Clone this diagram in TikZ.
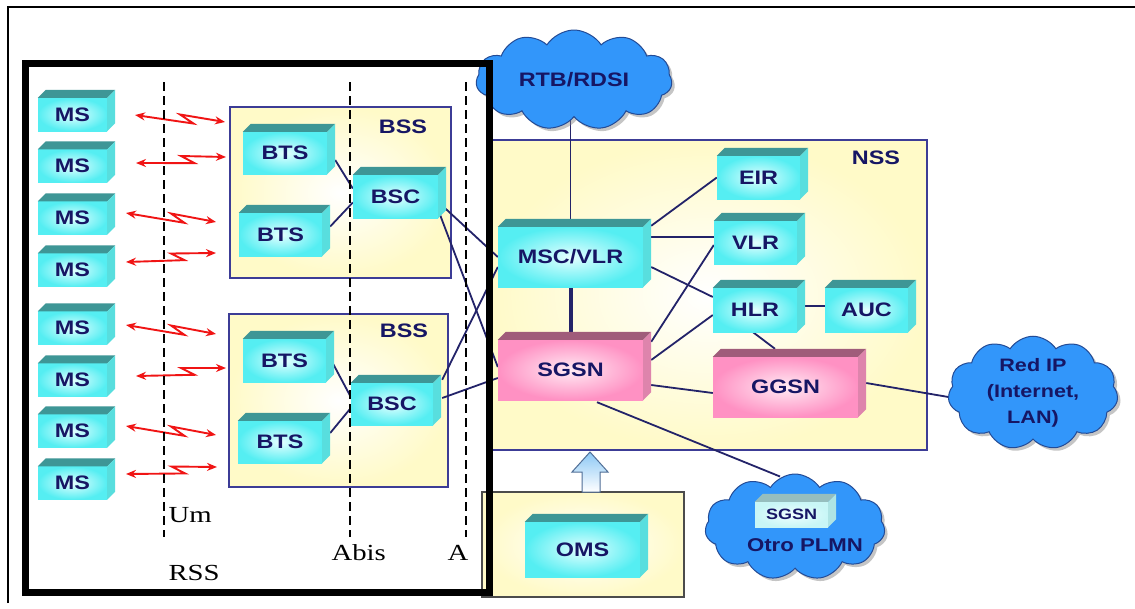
\documentclass[tikz,border=0pt]{standalone}
\usepackage{fontspec}
\usetikzlibrary{calc,shapes.symbols,shadows,arrows.meta}
\newfontfamily\boxfont[FakeStretch=1.2]{Liberation Sans}
\newfontfamily\labfont[FakeStretch=1.25]{Liberation Serif}

\definecolor{ink}{RGB}{22,22,100}
\definecolor{wire}{RGB}{35,35,105}
\definecolor{cyanedge}{RGB}{85,238,242}
\definecolor{cyancore}{RGB}{228,255,255}
\definecolor{cyantop}{RGB}{62,150,150}
\definecolor{cyanside}{RGB}{88,222,222}
\definecolor{pinkedge}{RGB}{255,145,195}
\definecolor{pinkcore}{RGB}{255,235,244}
\definecolor{pinktop}{RGB}{160,92,122}
\definecolor{pinkside}{RGB}{222,132,172}
\definecolor{paleedge}{RGB}{200,246,246}
\definecolor{palecore}{RGB}{240,255,255}
\definecolor{paletop}{RGB}{150,190,190}
\definecolor{paleside}{RGB}{175,228,228}
\definecolor{panelfill}{RGB}{255,250,200}
\definecolor{panelline}{RGB}{60,60,150}
\definecolor{cloudblue}{RGB}{50,150,250}
\definecolor{cloudline}{RGB}{35,75,150}
\definecolor{radio}{RGB}{240,20,20}
\definecolor{feedtop}{RGB}{140,200,245}
\definecolor{feedline}{RGB}{80,110,150}

\pgfdeclarelayer{panels}
\pgfdeclarelayer{wires}
\pgfdeclarelayer{front}
\pgfsetlayers{panels,wires,main,front}

\tikzset{
  face/.style={inner sep=0pt, text=ink,
    font=\boxfont\bfseries\fontsize{19.5}{22}\selectfont},
  cyanface/.style={face, inner color=cyancore, outer color=cyanedge},
  pinkface/.style={face, inner color=pinkcore, outer color=pinkedge},
  paleface/.style={face, inner color=palecore, outer color=paleedge,
    font=\boxfont\bfseries\fontsize{15}{18}\selectfont},
  panel/.style={draw=panelline, line width=1.2pt, inner sep=0pt,
    inner color=white, outer color=panelfill},
  omspanel/.style={panel, draw=black!70},
  title/.style={text=ink, font=\boxfont\bfseries\fontsize{19.5}{22}\selectfont},
  iface/.style={anchor=base west, text=black,
    font=\labfont\fontsize{23}{26}\selectfont},
  net/.style={cloud, cloud puffs=11, cloud puff arc=115, cloud ignores aspect,
    fill=cloudblue, draw=cloudline, line width=1pt, inner sep=0pt,
    text=ink, align=center,
    drop shadow={shadow xshift=3pt, shadow yshift=-3pt, opacity=0.45}},
  link/.style={draw=wire, line width=1.8pt},
  trunk/.style={draw=wire, line width=4pt},
  radiolink/.style={draw=radio, line width=1.9pt,
    {Stealth[length=10pt,width=8pt]}-{Stealth[length=10pt,width=8pt]}},
  border/.style={dash pattern=on 9pt off 5pt, line width=2.6pt},
}

% top and side faces of a box whose front face is node #1
\newcommand\cubefaces[3]{%
  \fill[#2] (#1.north west) -- ++(8,-8) -- ($(#1.north east)+(8,-8)$)
    -- (#1.north east) -- cycle;
  \fill[#3] (#1.north east) -- ++(8,-8) -- ($(#1.south east)+(8,-8)$)
    -- (#1.south east) -- cycle;}
% #1 colour set, #2 name, #3 centre, #4 width, #5 height, #6 text
\newcommand\unit[6]{%
  \node[#1face, minimum width=#4pt, minimum height=#5pt] (#2) at (#3) {#6};
  \cubefaces{#2}{#1top}{#1side}}

\begin{document}
\begin{tikzpicture}[x=1pt, y=-1pt]
\useasboundingbox (0,0) rectangle (1135,608);

% subsystem panels
\begin{pgfonlayer}{panels}
  \fill[white] (0,0) rectangle (1135,608);
  \node[panel, minimum width=221pt, minimum height=171pt] (bss1) at (340.5,192.5) {};
  \node[panel, minimum width=219pt, minimum height=173pt] (bss2) at (338.5,400.5) {};
  \node[panel, minimum width=438pt, minimum height=310pt] (nss) at (708,295) {};
  \node[omspanel, minimum width=202pt, minimum height=105pt] (omsp) at (583,544.5) {};
\end{pgfonlayer}

% outer frame
\draw[line width=1.6pt] (8,603) -- (8,7) -- (1140,7);

\node[title] at (403,127) {BSS};
\node[title] at (404,331) {BSS};
\node[title] at (876,158) {NSS};

% mobile stations
\foreach \i/\y in {1/114.5,2/166,3/218,4/270,5/328,6/380,7/431,8/483}{
  \unit{cyan}{ms\i}{72.5,\y}{69}{33}{MS}
}

% base station subsystems
\unit{cyan}{bts1}{285,153}{84}{42}{BTS}
\unit{cyan}{bts2}{280.5,234.5}{83}{43}{BTS}
\unit{cyan}{bsc1}{395.5,196.5}{85}{43}{BSC}
\unit{cyan}{bts3}{284.5,360.5}{83}{43}{BTS}
\unit{cyan}{bts4}{280,442}{84}{42}{BTS}
\unit{cyan}{bsc2}{392,404}{82}{42}{BSC}

% network subsystem
\unit{cyan}{msc}{570.5,257}{145}{60}{MSC/VLR}
\unit{pink}{sgsn}{570.5,370}{145}{60}{SGSN}
\unit{cyan}{eir}{758.5,177.5}{83}{43}{EIR}
\unit{cyan}{vlr}{755.5,242.5}{83}{43}{VLR}
\unit{cyan}{hlr}{755,310}{84}{44}{HLR}
\unit{cyan}{auc}{866.5,310}{83}{44}{AUC}
\unit{pink}{ggsn}{785.5,387}{145}{60}{GGSN}

% operation and maintenance
\unit{cyan}{oms}{582.5,549.5}{115}{55}{OMS}
\shade[top color=feedtop, bottom color=white, draw=feedline, line width=1pt]
  (582,492) -- (582,472) -- (572,472) -- (590,452) -- (608,472)
  -- (600,472) -- (600,492) -- cycle;

% external networks
\node[net, minimum width=196pt, minimum height=100pt,
  font=\boxfont\bfseries\fontsize{19.5}{22}\selectfont] (rtb) at (574,80) {RTB/RDSI};
\node[net, minimum width=170pt, minimum height=98pt,
  font=\boxfont\bfseries\fontsize{18}{26}\selectfont] (redip) at (1033,393)
  {Red IP\\(Internet,\\LAN)};
\node[net, minimum width=180pt, minimum height=106pt] (otro) at (795,527) {};
\unit{pale}{sgsnx}{791.5,514.5}{73}{25}{SGSN}
\node[title, font=\boxfont\bfseries\fontsize{18.5}{22}\selectfont] at (805,545) {Otro PLMN};

% wired links
\begin{pgfonlayer}{wires}
  \draw[link] ([xshift=8pt,yshift=-7pt]bts1.east) -- ([yshift=8pt]bsc1.west);
  \draw[link] ([xshift=8pt,yshift=8pt]bts2.east) -- ([yshift=-6pt]bsc1.west);
  \draw[link] ([xshift=7pt,yshift=-3.5pt]bts3.east) -- ([yshift=7pt]bsc2.west);
  \draw[link] ([xshift=8pt,yshift=9pt]bts4.east) -- ([yshift=-4pt]bsc2.west);
  \draw[link] ([xshift=5pt,yshift=-10pt]bsc1.east) -- (msc.west);
  \draw[link] ([xshift=2pt,yshift=3pt]bsc1.south east) -- ([yshift=3pt]sgsn.west);
  \draw[link] ([xshift=9pt,yshift=3pt]bsc2.north east) -- ([yshift=-10pt]msc.west);
  \draw[link] ([xshift=9pt,yshift=6pt]bsc2.east) -- ([yshift=-8pt]sgsn.west);
  \draw[link] (msc.north |- rtb.south) -- (msc.north);
  \draw[trunk] (msc.south) -- (sgsn.north);
  \draw[link] ([xshift=8pt,yshift=1pt]msc.north east) -- (eir.west);
  \draw[link] ([xshift=8pt,yshift=20pt]msc.east) -- ([yshift=5.5pt]vlr.west);
  \draw[link] ([xshift=8pt,yshift=-10pt]msc.east) -- ([yshift=13pt]hlr.west);
  \draw[link] ([xshift=8pt,yshift=-2pt]sgsn.north east) -- ([yshift=-2.5pt]vlr.west);
  \draw[link] ([xshift=8pt,yshift=10pt]sgsn.east) -- ([yshift=-5pt]hlr.west);
  \draw[link] ([xshift=8pt,yshift=-15pt]sgsn.east) -- ([yshift=-6pt]ggsn.west);
  \draw[link] ([xshift=-2pt]hlr.south) -- ([xshift=-10.5pt,yshift=8pt]ggsn.north);
  \draw[link] ([xshift=8pt,yshift=4pt]hlr.east) -- ([yshift=4pt]auc.west);
  \draw[link] ([xshift=8pt,yshift=4pt]ggsn.east) -- ([yshift=-4pt]redip.west);
  \draw[link] ([xshift=26.5pt,yshift=-2pt]sgsn.south) -- ([xshift=-15pt,yshift=-3pt]otro.north);
\end{pgfonlayer}

% radio links on the Um interface
\foreach \i/\lx/\ly/\rx/\ry in {1/135/115/225/122, 2/136/163/226/157,
    3/126/213/216/222, 4/126/262/216/253, 5/126/325/216/334,
    6/136/376/226/368, 7/126/426/216/435, 8/126/474/217/467}{
  \coordinate (ra\i) at (\lx,\ly);
  \coordinate (rb\i) at (\rx,\ry);
  \draw[radiolink] (ra\i) -- ($(ra\i)!0.65!(rb\i)+(0,4)$)
    -- ($(ra\i)!0.5!(rb\i)+(0,-4)$) -- (rb\i);
}

% radio subsystem frame and interface boundaries
\begin{pgfonlayer}{front}
  \draw[line width=7pt] (25,63) rectangle (489,592);
  \draw[border] (164,82) -- (164,537);
  \draw[border] (350,82) -- (350,537);
  \draw[border] (466,82) -- (466,537);
\end{pgfonlayer}
\node[iface] at (165,522) {Um};
\node[iface] at (165,580) {RSS};
\node[iface] at (328,560) {Abis};
\node[iface] at (444,560) {A};
\end{tikzpicture}
\end{document}
